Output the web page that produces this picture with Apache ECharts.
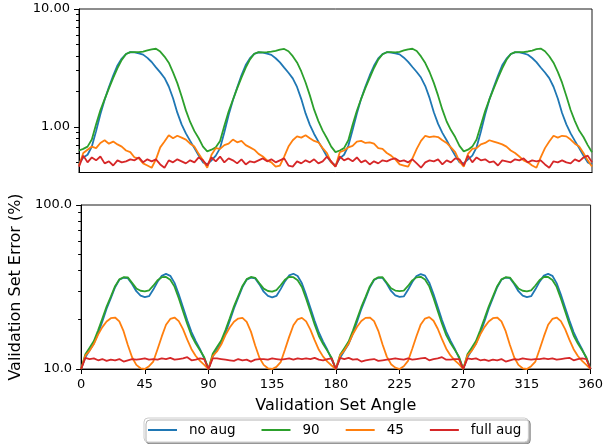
<!DOCTYPE html>
<html>
<head>
<meta charset="utf-8">
<script src="https://cdn.jsdelivr.net/npm/echarts@6/dist/echarts.min.js"></script>
<style>
  html, body { margin: 0; padding: 0; background: #fff; }
  #chart { width: 606px; height: 444px; }
</style>
</head>
<body>
<div id="chart"></div>
<script>
// sampled every 3 degrees
var angles = [
  0,3,6,9,12,15,18,21,24,27,30,33,36,39,42,45,48,51,54,57,60,63,66,69,72,75,78,81,84,87,
  90,93,96,99,102,105,108,111,114,117,120,123,126,129,132,135,138,141,144,147,150,153,156,159,162,165,168,171,174,177,
  180,183,186,189,192,195,198,201,204,207,210,213,216,219,222,225,228,231,234,237,240,243,246,249,252,255,258,261,264,267,
  270,273,276,279,282,285,288,291,294,297,300,303,306,309,312,315,318,321,324,327,330,333,336,339,342,345,348,351,354,357,
  360
];
var xTicks = [0, 45, 90, 135, 180, 225, 270, 315, 360];

// top panel (%)
var topNoAug = [
  0.49,0.55,0.58,0.68,0.92,1.28,1.70,2.18,2.72,3.32,3.80,4.15,4.30,4.28,4.20,4.10,3.85,3.55,3.20,2.90,2.60,2.20,1.75,1.32,1.05,0.88,0.76,0.66,0.57,0.50,
  0.48,0.52,0.57,0.66,0.90,1.26,1.68,2.16,2.74,3.35,3.83,4.17,4.28,4.26,4.18,4.08,3.82,3.52,3.18,2.88,2.58,2.18,1.72,1.30,1.04,0.87,0.75,0.65,0.56,0.50,
  0.47,0.54,0.58,0.69,0.94,1.30,1.73,2.20,2.73,3.30,3.81,4.14,4.30,4.27,4.21,4.12,3.86,3.56,3.22,2.92,2.62,2.22,1.76,1.33,1.06,0.89,0.77,0.66,0.57,0.50,
  0.49,0.53,0.57,0.67,0.91,1.27,1.71,2.17,2.71,3.33,3.79,4.15,4.29,4.28,4.20,4.09,3.84,3.54,3.19,2.89,2.59,2.19,1.74,1.31,1.05,0.88,0.76,0.66,0.57,0.50,
  0.48
];
var topNinety = [
  0.63,0.65,0.68,0.78,1.05,1.38,1.72,2.12,2.60,3.15,3.70,4.15,4.30,4.30,4.30,4.35,4.45,4.55,4.60,4.35,3.95,3.50,2.90,2.35,1.82,1.38,1.10,0.92,0.80,0.68,
  0.62,0.64,0.67,0.76,1.02,1.35,1.70,2.12,2.62,3.18,3.74,4.17,4.30,4.28,4.30,4.35,4.42,4.52,4.58,4.38,3.98,3.52,2.95,2.38,1.85,1.40,1.12,0.93,0.80,0.68,
  0.61,0.63,0.66,0.77,1.04,1.37,1.73,2.14,2.60,3.16,3.72,4.13,4.30,4.30,4.28,4.33,4.45,4.55,4.60,4.40,3.96,3.48,2.92,2.36,1.84,1.40,1.11,0.94,0.82,0.69,
  0.62,0.64,0.68,0.78,1.03,1.36,1.71,2.11,2.59,3.14,3.71,4.15,4.31,4.30,4.30,4.36,4.44,4.56,4.62,4.38,3.97,3.50,2.93,2.37,1.83,1.39,1.12,0.93,0.82,0.70,
  0.61
];
var topFortyFive = [
  0.47,0.60,0.64,0.68,0.66,0.73,0.77,0.72,0.75,0.71,0.68,0.63,0.61,0.55,0.54,0.49,0.47,0.45,0.53,0.67,0.75,0.85,0.80,0.84,0.81,0.78,0.72,0.68,0.59,0.52,
  0.45,0.58,0.66,0.65,0.70,0.72,0.78,0.74,0.76,0.70,0.67,0.64,0.59,0.56,0.52,0.50,0.46,0.47,0.56,0.68,0.77,0.83,0.81,0.85,0.80,0.76,0.74,0.66,0.60,0.50,
  0.46,0.61,0.63,0.67,0.69,0.75,0.76,0.73,0.74,0.72,0.66,0.65,0.60,0.57,0.53,0.48,0.47,0.46,0.54,0.65,0.76,0.84,0.82,0.83,0.82,0.77,0.73,0.67,0.61,0.51,
  0.46,0.59,0.65,0.66,0.71,0.73,0.77,0.75,0.73,0.71,0.68,0.63,0.60,0.56,0.52,0.50,0.47,0.45,0.55,0.66,0.75,0.84,0.81,0.84,0.83,0.78,0.72,0.68,0.60,0.52,
  0.46
];
var topFullAug = [
  0.46,0.57,0.50,0.55,0.52,0.56,0.49,0.51,0.47,0.52,0.50,0.51,0.53,0.52,0.55,0.50,0.53,0.51,0.53,0.48,0.45,0.52,0.50,0.53,0.51,0.49,0.52,0.50,0.55,0.52,
  0.47,0.55,0.51,0.56,0.50,0.54,0.52,0.49,0.53,0.48,0.51,0.50,0.52,0.54,0.51,0.53,0.50,0.52,0.54,0.47,0.46,0.51,0.49,0.52,0.50,0.53,0.49,0.51,0.56,0.51,
  0.46,0.56,0.52,0.54,0.51,0.55,0.50,0.52,0.48,0.51,0.49,0.52,0.51,0.53,0.54,0.51,0.52,0.50,0.53,0.49,0.45,0.50,0.52,0.51,0.53,0.48,0.52,0.50,0.54,0.53,
  0.47,0.57,0.50,0.55,0.52,0.53,0.50,0.51,0.47,0.52,0.51,0.50,0.53,0.52,0.54,0.50,0.52,0.51,0.52,0.48,0.45,0.51,0.50,0.52,0.50,0.49,0.53,0.51,0.55,0.57,
  0.50
];

// bottom panel (%)
var botNoAug = [
  10.0,11.8,13.0,14.3,16.5,19.5,23.3,27.0,31.5,35.0,36.0,35.8,33.0,29.8,28.0,27.4,27.8,30.5,34.0,37.0,38.0,37.0,33.5,28.5,23.8,19.8,16.8,14.8,13.2,11.6,
  10.0,11.9,13.1,14.4,16.6,19.6,23.4,27.2,31.6,35.1,36.1,35.7,32.8,29.6,27.9,27.3,27.9,30.7,34.2,37.2,38.1,36.9,33.3,28.3,23.6,19.7,16.7,14.7,13.1,11.5,
  10.0,11.7,12.9,14.2,16.4,19.4,23.2,26.9,31.4,34.9,36.0,35.9,33.1,29.9,28.1,27.5,27.7,30.4,33.9,36.9,37.9,37.1,33.6,28.6,23.9,19.9,16.9,14.9,13.3,11.7,
  10.0,11.8,13.0,14.3,16.5,19.5,23.3,27.1,31.5,35.0,36.1,35.8,33.0,29.8,28.0,27.4,27.8,30.6,34.1,37.1,38.0,37.0,33.4,28.4,23.7,19.8,16.8,14.8,13.2,11.6,
  10.0
];
var botNinety = [
  10.0,12.3,13.5,14.8,17.2,20.3,24.0,27.6,32.0,35.2,36.3,36.2,33.5,31.0,30.0,29.7,30.2,32.2,34.8,36.3,36.4,35.0,31.8,27.0,22.5,18.8,16.0,14.3,13.0,11.8,
  10.0,12.4,13.6,14.9,17.3,20.4,24.1,27.8,32.1,35.3,36.4,36.0,33.3,30.9,29.9,29.6,30.3,32.4,35.0,36.5,36.3,34.8,31.6,26.8,22.4,18.7,15.9,14.2,12.9,11.7,
  10.0,12.2,13.4,14.7,17.1,20.2,23.9,27.5,31.9,35.1,36.2,36.3,33.6,31.1,30.1,29.8,30.1,32.1,34.7,36.2,36.5,35.1,31.9,27.1,22.6,18.9,16.1,14.4,13.1,11.9,
  10.0,12.3,13.5,14.8,17.2,20.3,24.0,27.7,32.0,35.2,36.3,36.1,33.4,31.0,30.0,29.7,30.2,32.3,34.9,36.4,36.4,34.9,31.7,26.9,22.5,18.8,16.0,14.3,13.0,11.8,
  10.0
];
var botFortyFive = [
  10.0,12.1,12.9,14.2,16.2,18.0,19.5,20.4,20.6,19.5,17.0,14.0,11.8,10.6,10.1,10.0,10.4,11.1,13.2,15.8,18.6,20.2,20.6,19.6,17.5,15.1,13.2,12.0,11.2,10.6,
  10.0,12.0,12.8,14.1,16.1,17.9,19.4,20.3,20.5,19.4,16.9,13.9,11.7,10.6,10.1,10.0,10.3,11.0,13.1,15.7,18.5,20.1,20.5,19.5,17.4,15.0,13.1,11.9,11.1,10.5,
  10.0,12.1,13.0,14.3,16.3,18.1,19.6,20.5,20.6,19.6,17.1,14.1,11.9,10.7,10.2,10.0,10.4,11.2,13.3,15.9,18.7,20.3,20.7,19.7,17.6,15.2,13.3,12.1,11.3,10.7,
  10.0,12.1,12.9,14.2,16.2,18.0,19.5,20.4,20.6,19.5,17.0,14.0,11.8,10.6,10.1,10.0,10.4,11.1,13.2,15.8,18.6,20.2,20.6,19.6,17.5,15.1,13.2,12.0,11.2,10.6,
  10.0
];
var botFullAug = [
  10.0,11.7,11.5,11.6,11.3,11.5,11.2,11.4,11.3,11.5,11.1,11.3,11.5,11.4,11.5,11.6,11.4,11.5,11.4,11.6,11.5,11.7,11.4,11.5,11.6,11.8,11.3,11.4,11.6,11.5,
  10.0,11.6,11.6,11.5,11.4,11.3,11.2,11.5,11.3,11.4,11.1,11.4,11.5,11.5,11.4,11.6,11.5,11.4,11.5,11.6,11.4,11.6,11.5,11.6,11.5,11.7,11.4,11.3,11.5,11.6,
  10.0,11.7,11.5,11.7,11.4,11.5,11.1,11.3,11.4,11.5,11.2,11.3,11.4,11.5,11.6,11.5,11.4,11.6,11.4,11.5,11.6,11.7,11.3,11.5,11.6,11.8,11.4,11.4,11.5,11.5,
  10.0,11.6,11.5,11.6,11.3,11.4,11.2,11.4,11.3,11.5,11.1,11.3,11.5,11.4,11.6,11.5,11.4,11.5,11.5,11.6,11.5,11.6,11.4,11.5,11.6,11.7,11.3,11.5,11.6,11.5,
  10.0
];

var seriesNames = ['no aug', '90', '45', 'full aug'];
var colors = ['#1f77b4', '#2ca02c', '#ff7f0e', '#d62728'];

// y ranges and tick values
var topRange = [0.41, 10];
var botRange = [10, 100];
var topMajor = [1, 10];
var topMinor = [0.5, 0.6, 0.7, 0.8, 0.9, 2, 3, 4, 5, 6, 7, 8, 9];
var botMajor = [10, 100];
var botMinor = [20, 30, 40, 50, 60, 70, 80, 90];

var font = 'DejaVu Sans';
var axisColor = '#000';

function pairs(vals) {
  var out = [];
  for (var i = 0; i < angles.length; i++) out.push([angles[i], vals[i]]);
  return out;
}

function lineSeries(name, vals, idx) {
  var c = colors[seriesNames.indexOf(name)];
  return {
    name: name,
    type: 'line',
    xAxisIndex: idx,
    yAxisIndex: idx * 2,
    data: pairs(vals),
    symbol: 'none',
    clip: true,
    lineStyle: { width: 1.8, color: c },
    itemStyle: { color: c }
  };
}

function xAx(grid, labels) {
  return {
    type: 'value', gridIndex: grid, min: 0, max: 360, interval: 45,
    axisLine: { show: true, onZero: false, lineStyle: { color: axisColor, width: 1 } },
    axisTick: { show: labels, inside: false, length: 5, lineStyle: { color: axisColor, width: 1 } },
    axisLabel: { show: labels, margin: 9, color: '#000', fontFamily: font, fontSize: 13,
      customValues: xTicks },
    splitLine: { show: false }
  };
}

// main log axis (labels + major ticks) or a twin that only draws minor ticks
function yAx(grid, range, major, minor, isMinor, digits) {
  return {
    type: 'log', logBase: 10, gridIndex: grid, min: range[0], max: range[1],
    position: 'left', offset: 0,
    axisLine: { show: !isMinor, onZero: false, lineStyle: { color: axisColor, width: 1 } },
    axisTick: { show: true, inside: false, length: isMinor ? 3 : 5,
      customValues: isMinor ? minor : major, lineStyle: { color: axisColor, width: 1 } },
    axisLabel: { show: !isMinor, customValues: major, margin: 9, color: '#000',
      fontFamily: font, fontSize: 13,
      formatter: function (v) { return Number(v).toFixed(digits); } },
    splitLine: { show: false }
  };
}

var chart = echarts.init(document.getElementById('chart'), null, { renderer: 'canvas' });

var yBotMain = yAx(1, botRange, botMajor, botMinor, false, 1);
yBotMain.name = 'Validation Set Error (%)';
yBotMain.nameLocation = 'middle';
yBotMain.nameRotate = 90;
yBotMain.nameGap = 53;
yBotMain.nameTextStyle = { fontFamily: font, fontSize: 16, color: '#000' };

var xBot = xAx(1, true);
xBot.name = 'Validation Set Angle';
xBot.nameLocation = 'middle';
xBot.nameGap = 29;
xBot.nameTextStyle = { fontFamily: font, fontSize: 16, color: '#000' };

var option = {
  animation: false,
  backgroundColor: '#fff',
  grid: [
    { left: 79, top: 9, width: 513, height: 163.5, show: true, borderColor: '#1a1a1a', borderWidth: 1, backgroundColor: 'transparent' },
    { left: 79, top: 205, width: 513, height: 164, show: true, borderColor: '#1a1a1a', borderWidth: 1, backgroundColor: 'transparent' }
  ],
  xAxis: [xAx(0, false), xBot],
  yAxis: [
    yAx(0, topRange, topMajor, topMinor, false, 2),
    yAx(0, topRange, topMajor, topMinor, true, 2),
    yBotMain,
    yAx(1, botRange, botMajor, botMinor, true, 1)
  ],
  legend: {
    data: seriesNames,
    left: 144, top: 418,
    orient: 'horizontal',
    icon: 'rect',
    itemWidth: 29, itemHeight: 2, itemGap: 26,
    padding: [5, 7, 5, 4],
    backgroundColor: '#fff',
    borderColor: '#cccccc', borderWidth: 1, borderRadius: 4,
    shadowColor: 'rgba(0,0,0,0.3)', shadowBlur: 0, shadowOffsetX: 2, shadowOffsetY: 2,
    textStyle: { fontFamily: font, fontSize: 13.5, color: '#000', padding: [0, 0, 0, 7] }
  },
  series: [
    lineSeries('no aug', topNoAug, 0),
    lineSeries('90', topNinety, 0),
    lineSeries('45', topFortyFive, 0),
    lineSeries('full aug', topFullAug, 0),
    lineSeries('no aug', botNoAug, 1),
    lineSeries('90', botNinety, 1),
    lineSeries('45', botFortyFive, 1),
    lineSeries('full aug', botFullAug, 1)
  ]
};

chart.setOption(option);
</script>
</body>
</html>
